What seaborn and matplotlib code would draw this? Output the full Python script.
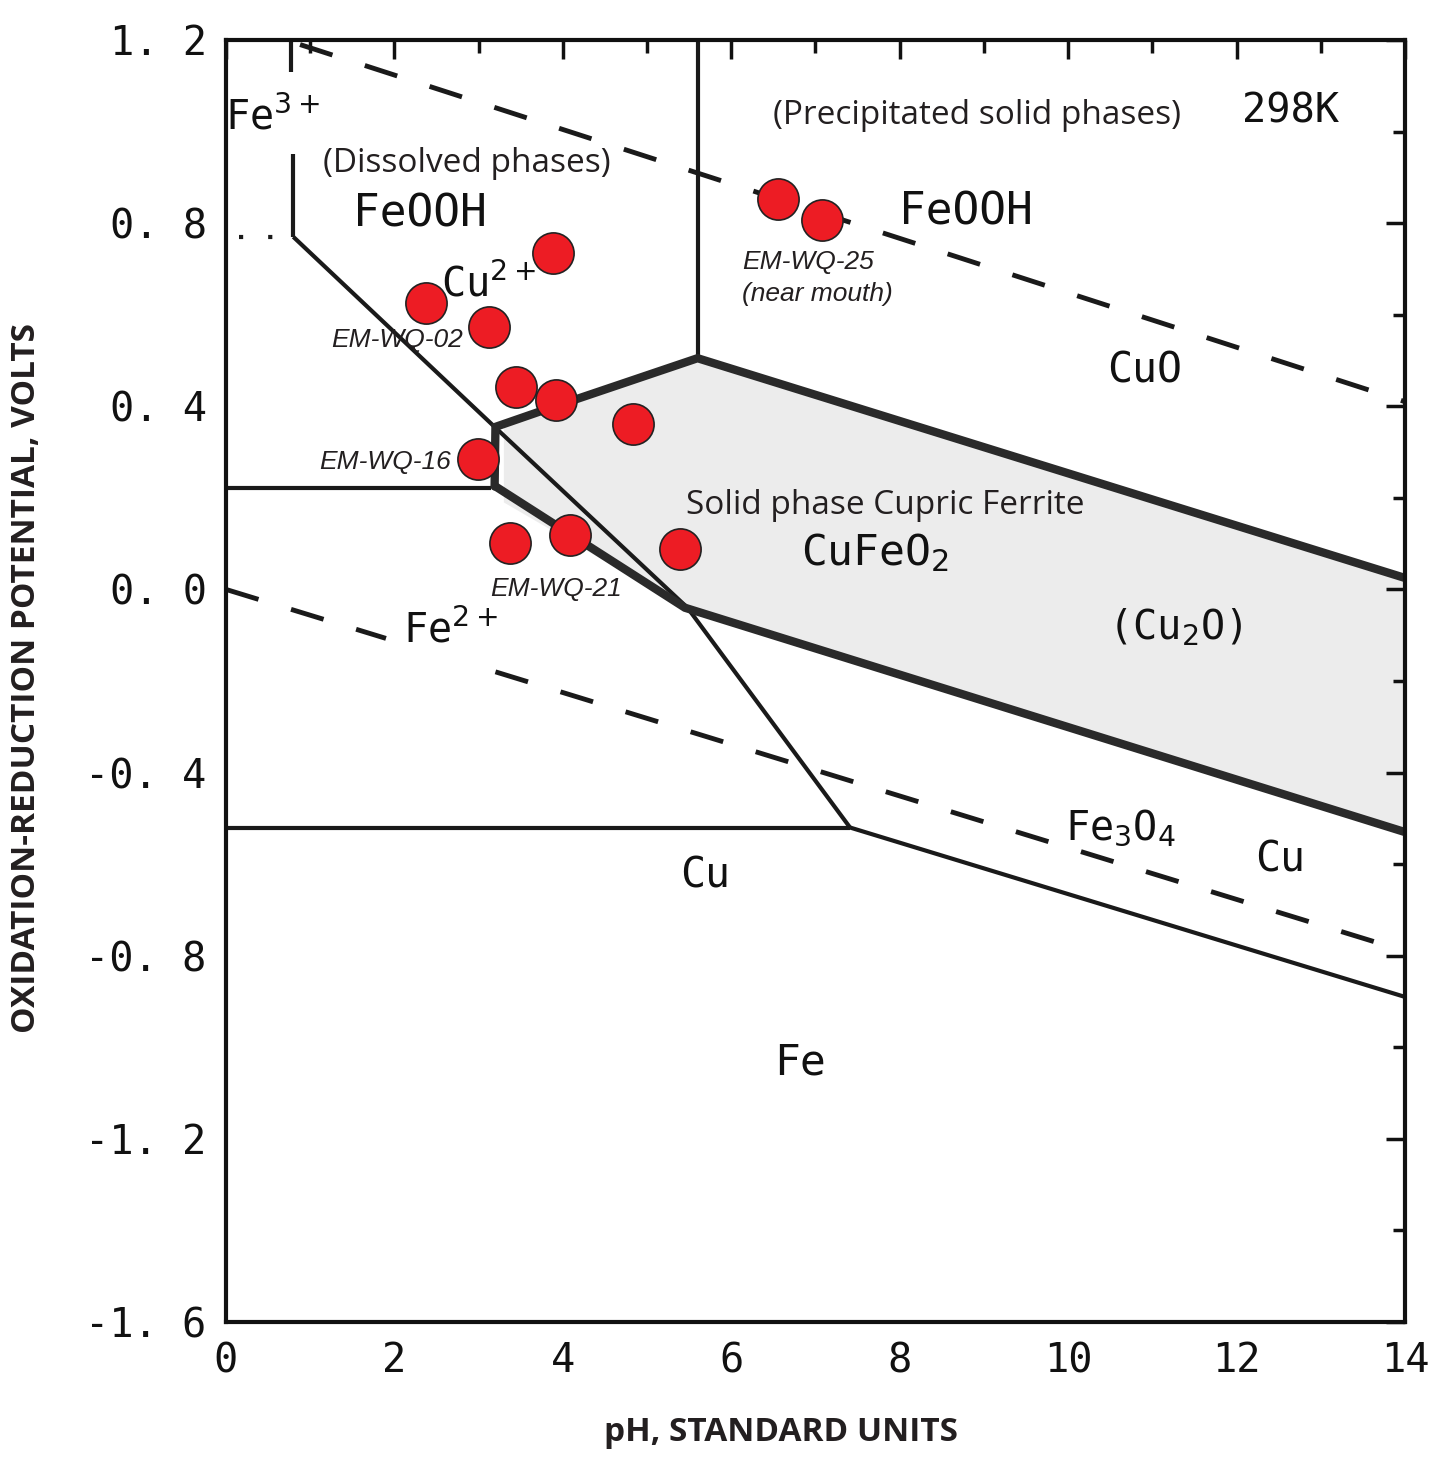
import numpy as np
import pandas as pd
import matplotlib
matplotlib.use("Agg")
import matplotlib.pyplot as plt
import seaborn as sns

sns.set_theme(style="white")
plt.rcParams['font.family'] = ['DejaVu Sans']

# ---- data -------------------------------------------------------------
sample_ph = [2.38, 3.12, 3.88, 3.44, 3.92, 4.83, 2.99, 3.37, 4.09, 5.39, 6.56, 7.08]
sample_eh = [0.626, 0.573, 0.735, 0.442, 0.414, 0.361, 0.285, 0.101, 0.119, 0.088, 0.853, 0.807]

# thin solid boundaries
fe_diag_ph = [0.80, 3.19, 5.48, 7.41]
fe_diag_eh = [0.77, 0.355, -0.04, -0.52]
fe3_vert_ph = [0.80, 0.80]
fe3_vert_eh = [0.95, 0.77]
fe3_vert_top_ph = [0.77, 0.77]
fe3_vert_top_eh = [1.20, 1.13]
cu2_horiz_ph = [0.0, 3.15]
cu2_horiz_eh = [0.222, 0.222]
cu_horiz_ph = [0.0, 7.41]
cu_horiz_eh = [-0.52, -0.52]
fe_low_ph = [7.41, 14.0]
fe_low_eh = [-0.52, -0.89]
cuo_vert_ph = [5.60, 5.60]
cuo_vert_eh = [1.20, 0.505]
fe3_dot_ph = [0.15, 0.80]
fe3_dot_eh = [0.77, 0.77]

# thick CuFeO2 boundaries
cufe_top_ph = [3.19, 3.2, 3.75, 5.60, 14.0]
cufe_top_eh = [0.225, 0.355, 0.39, 0.505, 0.025]
cufe_bot_ph = [3.2, 5.45, 14.0]
cufe_bot_eh = [0.225, -0.04, -0.53]

# water stability (dashed)
o2_ph = [0.88, 14.0]
o2_eh = [1.19, 0.41]
h2a_ph = [0.0, 1.9]
h2a_eh = [0.0, -0.107]
h2b_ph = [3.2, 14.0]
h2b_eh = [-0.180, -0.79]

xticks = [0, 2, 4, 6, 8, 10, 12, 14]
yticks = [1.2, 0.8, 0.4, 0.0, -0.4, -0.8, -1.2, -1.6]
ytick_labels = ["1. 2", "0. 8", "0. 4", "0. 0", "-0. 4", "-0. 8", "-1. 2", "-1. 6"]

# ---- figure -----------------------------------------------------------
fig = plt.figure(figsize=(14.54, 14.59), dpi=100)
ax = fig.add_axes([0.1554, 0.0939, 0.9663 - 0.1554, 0.9726 - 0.0939])
ax.set_xlim(0, 14)
ax.set_ylim(-1.6, 1.2)

# shaded CuFeO2 field
poly_ph = [3.3, 3.75, 5.60, 14.0, 14.0, 5.45, 3.3]
poly_eh = [0.36, 0.39, 0.505, 0.025, -0.53, -0.04, 0.19]
ax.fill(poly_ph, poly_eh, color="#ececec", zorder=0, lw=0)

thin = dict(color="#1a1a1a", lw=3.0, solid_capstyle="butt", zorder=2)
thick = dict(color="#2a2a2a", lw=6.0, solid_joinstyle="miter", zorder=2)
dash = dict(color="#1a1a1a", lw=3.5, dashes=(7, 7), zorder=2)

for xs, ys in [(fe_diag_ph, fe_diag_eh), (fe3_vert_ph, fe3_vert_eh),
               (fe3_vert_top_ph, fe3_vert_top_eh), (cu2_horiz_ph, cu2_horiz_eh),
               (cu_horiz_ph, cu_horiz_eh), (fe_low_ph, fe_low_eh),
               (cuo_vert_ph, cuo_vert_eh)]:
    ax.plot(xs, ys, **thin)
ax.plot(fe3_dot_ph, fe3_dot_eh, color="#1a1a1a", lw=3, ls=(0, (1, 6)), zorder=2)
for xs, ys in [(cufe_top_ph, cufe_top_eh), (cufe_bot_ph, cufe_bot_eh)]:
    ax.plot(xs, ys, **thick)
for xs, ys in [(o2_ph, o2_eh), (h2a_ph, h2a_eh), (h2b_ph, h2b_eh)]:
    ax.plot(xs, ys, **dash)

# sample points
df = pd.DataFrame({"pH": sample_ph, "Eh": sample_eh})
sns.scatterplot(data=df, x="pH", y="Eh", ax=ax, s=880, color="#ed1c24",
                edgecolor="#222222", linewidth=1.2, zorder=5, legend=False)
ax.set_xlabel("")
ax.set_ylabel("")

# ---- diagram labels ----------------------------------------------------
mono = dict(family=["DejaVu Sans Mono"], color="#111111", zorder=4)
def lab(x, y, s, size=30, **kw):
    d = dict(mono); d.update(kw)
    ax.text(x, y, s, fontsize=size, ha="center", va="center", **d)

lab(0.55, 1.03, r"Fe$^{3+}$", 29)
lab(2.30, 0.82, "FeOOH", 32)
lab(3.12, 0.665, r"Cu$^{2+}$", 29)
lab(12.64, 1.043, "298K", 29)
lab(8.79, 0.824, "FeOOH", 32)
lab(10.91, 0.479, "CuO", 30)
lab(7.71, 0.08, r"CuFeO$_2$", 31)
lab(11.27, -0.084, r"(Cu$_2$O)", 29)
lab(2.66, -0.09, r"Fe$^{2+}$", 29)
lab(10.62, -0.52, r"Fe$_3$O$_4$", 29)
lab(12.52, -0.59, "Cu", 30)
lab(5.69, -0.625, "Cu", 30)
lab(6.82, -1.034, "Fe", 31)

sans = dict(family=["Open Sans", "DejaVu Sans"], color="#231f20", zorder=6)
ax.text(2.86, 0.93, "(Dissolved phases)", fontsize=24, ha="center", va="center", **sans)
ax.text(8.92, 1.036, "(Precipitated solid phases)", fontsize=24, ha="center", va="center", **sans)
ax.text(7.83, 0.184, "Solid phase Cupric Ferrite", fontsize=24, ha="center", va="center", **sans)

ital = dict(family=["Liberation Sans", "DejaVu Sans"], style="italic", color="#231f20", zorder=6)
ax.text(2.03, 0.545, "EM-WQ-02", fontsize=19, ha="center", va="center", **ital)
ax.text(1.89, 0.278, "EM-WQ-16", fontsize=19, ha="center", va="center", **ital)
ax.text(3.92, 0.0, "EM-WQ-21", fontsize=19, ha="center", va="center", **ital)
ax.text(6.91, 0.715, "EM-WQ-25", fontsize=19, ha="center", va="center", **ital)
ax.text(7.02, 0.645, "(near mouth)", fontsize=19, ha="center", va="center", **ital)

# ---- axes styling ------------------------------------------------------
for sp in ax.spines.values():
    sp.set_color("#111111")
    sp.set_linewidth(3)
ax.set_xticks(xticks)
ax.set_xticks(np.arange(1, 14, 2), minor=True)
ax.set_yticks(yticks)
ax.set_yticklabels(ytick_labels)
ax.set_yticks(np.arange(-1.4, 1.2, 0.4), minor=True)
ax.tick_params(which="both", direction="in", top=True, right=True,
               color="#111111", width=2.5)
ax.tick_params(which="major", length=14, labelsize=29, pad=14)
ax.tick_params(which="minor", length=9)
for t in ax.get_xticklabels() + ax.get_yticklabels():
    t.set_family(["DejaVu Sans Mono"])
    t.set_color("#111111")
ax.grid(False)

fig.text(0.537, 0.018, "pH, STANDARD UNITS", fontsize=24, fontweight="bold",
         ha="center", va="center", color="#231f20", family=["Open Sans", "DejaVu Sans"])
fig.text(0.018, 0.535, "OXIDATION-REDUCTION POTENTIAL, VOLTS", fontsize=24,
         fontweight="bold", rotation=90, ha="center", va="center", color="#231f20",
         family=["Open Sans", "DejaVu Sans"])

fig.savefig("out.png", dpi=100)
